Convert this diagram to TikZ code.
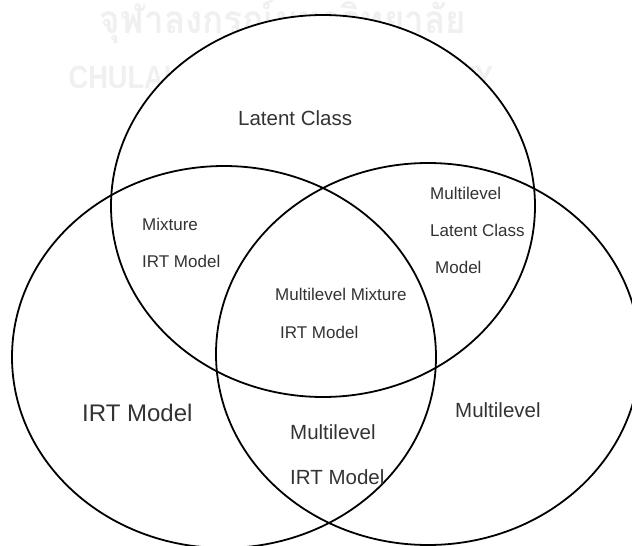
\documentclass[tikz,border=0pt]{standalone}
\usepackage{fontspec}
\setmainfont{Liberation Sans}
\newfontfamily\thaifont[Script=Thai]{Loma}
\usetikzlibrary{shapes.geometric}

\tikzset{
  vennset/.style={ellipse, draw=black, line width=1.8pt, inner sep=0pt,
                  minimum width=424pt, minimum height=382pt},
  lbl/.style={anchor=base west, inner sep=0pt, text=black!80},
  small/.style={lbl, font=\fontsize{17}{20}\selectfont},
  medium/.style={lbl, font=\fontsize{20.5}{24}\selectfont},
  large/.style={lbl, font=\fontsize{24}{28}\selectfont},
  wmark/.style={inner sep=0pt, text=black!6}
}

\begin{document}
\begin{tikzpicture}[x=1pt, y=-1pt]
  \useasboundingbox (0,0) rectangle (632,546);
  \clip (0,0) rectangle (632,546);

  % faint university watermark behind the diagram
  \node[wmark, anchor=base, font=\thaifont\bfseries\fontsize{39}{42}\selectfont]
    (wmthai) at (283,34) {\scalebox{0.9}[1]{จุฬาลงกรณ์มหาวิทยาลัย}};
  \node[wmark, anchor=base, font=\bfseries\fontsize{32}{35}\selectfont]
    (wmlatin) at (281,88) {\scalebox{0.85}[1]{CHULALONGKORN UNIVERSITY}};

  % the three sets
  \node[vennset, fill=white] (lc) at (323,206) {};
  \node[vennset] (irt) at (224,357) {};
  \node[vennset] (ml) at (428,354) {};

  % region labels
  \node[medium] (tLC) at (238,125) {Latent Class};
  \node[small] (tMix1) at (142,230) {Mixture};
  \node[small] (tMix2) at (142,267) {IRT Model};
  \node[small] (tMLC1) at (430,199) {Multilevel};
  \node[small] (tMLC2) at (430,236) {Latent Class};
  \node[small] (tMLC3) at (435,273) {Model};
  \node[small] (tAll1) at (275,300) {Multilevel Mixture};
  \node[small] (tAll2) at (280,338) {IRT Model};
  \node[large] (tIRT) at (82,421) {IRT Model};
  \node[medium] (tML) at (455,417) {Multilevel};
  \node[medium] (tMI1) at (290,439) {Multilevel};
  \node[medium] (tMI2) at (290,484) {IRT Model};
\end{tikzpicture}
\end{document}
